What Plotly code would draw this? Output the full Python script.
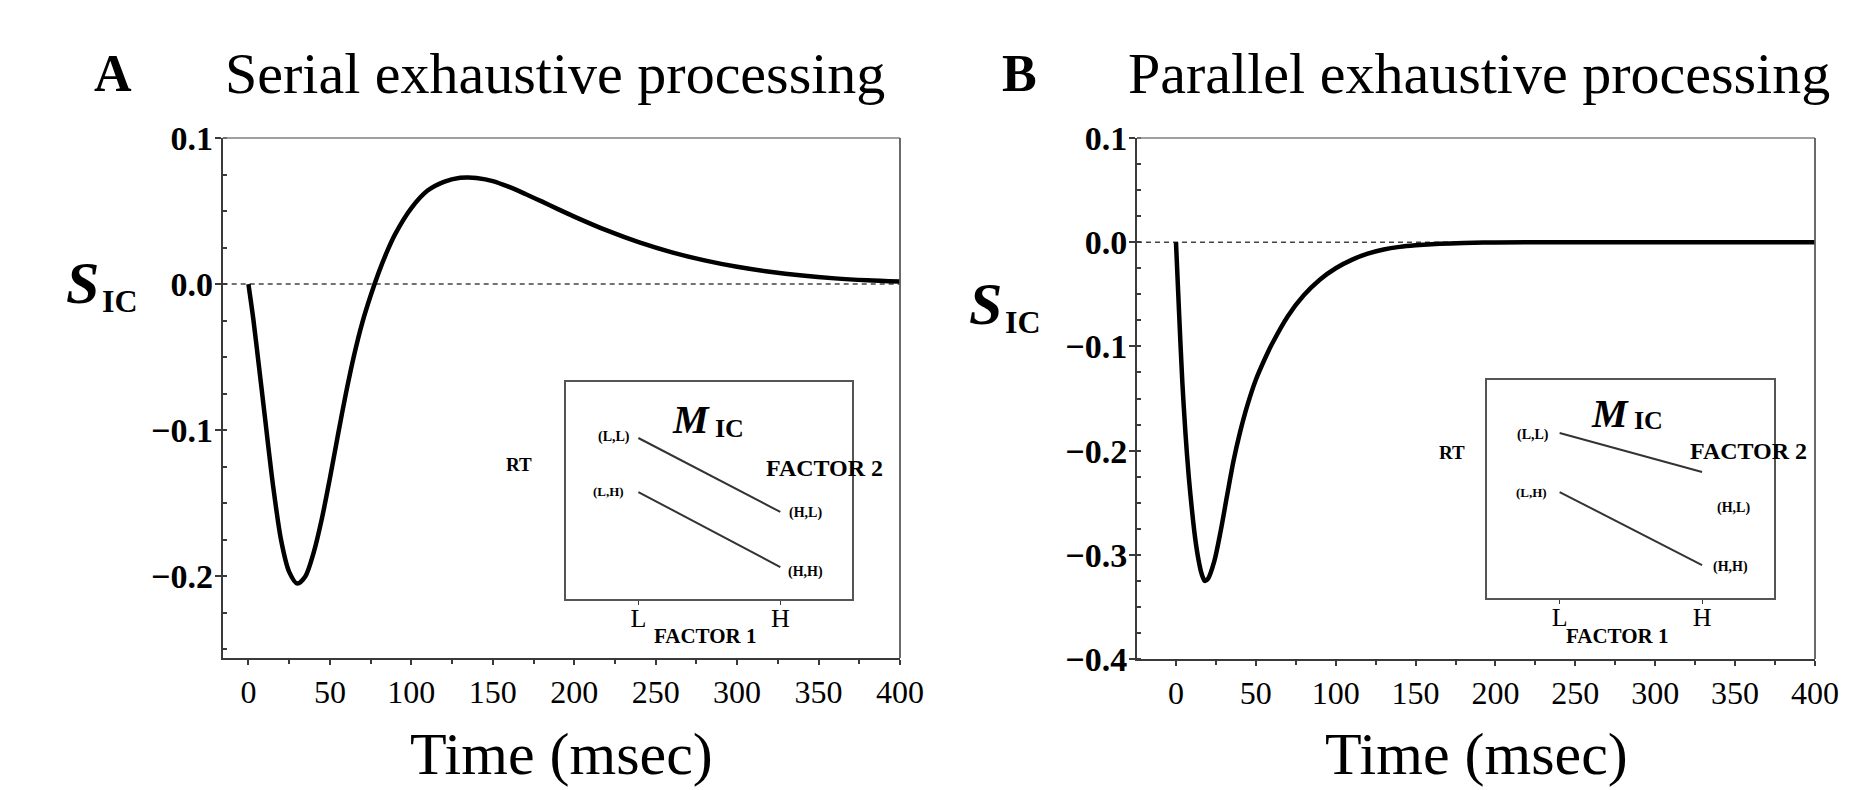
import plotly.graph_objects as go

# ---------------- data ----------------
serial_t = [0, 3, 6, 10, 15, 20, 25, 30, 35, 40, 45, 50, 55, 60, 65, 70, 75, 80, 85, 90,
            100, 110, 120, 130, 135, 140, 150, 160, 170, 180, 190, 200, 220, 240, 260,
            280, 300, 320, 340, 360, 380, 400]
serial_s = [0.0, -0.024, -0.052, -0.090, -0.137, -0.175, -0.197, -0.205, -0.200, -0.184,
            -0.161, -0.133, -0.103, -0.074, -0.048, -0.026, -0.008, 0.008, 0.022, 0.034,
            0.052, 0.064, 0.070, 0.0728, 0.073, 0.0726, 0.0705, 0.0665, 0.0617, 0.0566, 0.0513,
            0.0462, 0.0367, 0.0285, 0.0217, 0.0162, 0.0118, 0.0084, 0.0058, 0.0039, 0.0026, 0.0017]

parallel_t = [0, 2, 4, 6, 8, 10, 12, 14, 16, 18, 20, 24, 28, 32, 36, 40, 45, 50, 55, 60,
              70, 80, 90, 100, 110, 120, 130, 140, 150, 165, 180, 200, 250, 300, 350, 400]
parallel_s = [0.0, -0.07, -0.135, -0.185, -0.225, -0.257, -0.284, -0.304, -0.318, -0.325,
              -0.323, -0.306, -0.277, -0.243, -0.210, -0.183, -0.155, -0.132, -0.114, -0.098,
              -0.071, -0.051, -0.036, -0.025, -0.017, -0.011, -0.007, -0.0045, -0.003,
              -0.0015, -0.0007, -0.0002, 0.0, 0.0, 0.0, 0.0]

# inset interaction plots (mean RT, arbitrary units); factor 1 levels on x
factor1_levels = [0, 1]
factor1_labels = ["L", "H"]
serial_rt_f2_low = [0.742, 0.401]    # (L,L) -> (H,L)
serial_rt_f2_high = [0.493, 0.147]   # (L,H) -> (H,H)
parallel_rt_f2_low = [0.757, 0.578]
parallel_rt_f2_high = [0.486, 0.151]

time_ticks = [0, 50, 100, 150, 200, 250, 300, 350, 400]

# ---------------- layout helpers ----------------
W, H = 1851, 790
def fx(px):
    return px / W
def fy(py):
    return 1 - py / H

FONT = "Liberation Serif"
AXC = "#3a3a3a"

fig = go.Figure()

# main curves
fig.add_trace(go.Scatter(x=serial_t, y=serial_s, mode="lines", line=dict(color="black", width=4.5, shape="spline", smoothing=0.8),
                         xaxis="x", yaxis="y", showlegend=False, hoverinfo="skip"))
fig.add_trace(go.Scatter(x=parallel_t, y=parallel_s, mode="lines", line=dict(color="black", width=4.5, shape="spline", smoothing=0.8),
                         xaxis="x2", yaxis="y2", showlegend=False, hoverinfo="skip"))

# inset lines
for xa, ya, lo, hi in [("x3", "y3", serial_rt_f2_low, serial_rt_f2_high),
                       ("x4", "y4", parallel_rt_f2_low, parallel_rt_f2_high)]:
    fig.add_trace(go.Scatter(x=factor1_levels, y=lo, mode="lines", line=dict(color="#333", width=2),
                             xaxis=xa, yaxis=ya, showlegend=False, hoverinfo="skip"))
    fig.add_trace(go.Scatter(x=factor1_levels, y=hi, mode="lines", line=dict(color="#333", width=2),
                             xaxis=xa, yaxis=ya, showlegend=False, hoverinfo="skip"))

def main_xaxis(dom, rng):
    return dict(domain=dom, range=rng, tickvals=time_ticks, ticks="outside", ticklen=5, tickwidth=1.5,
                tickcolor=AXC, showline=True, linecolor=AXC, linewidth=2, mirror=False, automargin=False,
                showgrid=False, zeroline=False, tickfont=dict(family=FONT, size=32, color="black"),
                minor=dict(dtick=25, ticks="outside", ticklen=4, tickcolor=AXC))

def main_yaxis(dom, rng, vals):
    return dict(domain=dom, range=rng, tickvals=vals, tickformat=".1f", ticks="outside", ticklen=6, tickwidth=1.5,
                tickcolor=AXC, showline=True, linecolor=AXC, linewidth=2, mirror=False, automargin=False,
                ticklabelstandoff=-5,
                showgrid=False, zeroline=False,
                tickfont=dict(family=FONT, size=34, color="black", weight="bold"),
                minor=dict(dtick=0.025, ticks="inside", ticklen=4, tickcolor=AXC))

def inset_xaxis(dom, anchor):
    return dict(domain=dom, range=[-0.51, 1.505], tickvals=factor1_levels, ticktext=factor1_labels, anchor=anchor,
                ticks="outside", ticklen=4, tickcolor=AXC, showline=True, linecolor="#555", linewidth=1.5, mirror=True,
                ticklabelstandoff=-9,
                automargin=False, showgrid=False, zeroline=False, tickfont=dict(family=FONT, size=26, color="black"))

def inset_yaxis(dom, anchor):
    return dict(domain=dom, range=[0, 1], anchor=anchor, showticklabels=False, ticks="", showline=True,
                automargin=False, linecolor="#555", linewidth=1.5, mirror=True, showgrid=False, zeroline=False)

fig.update_layout(
    template="none",
    width=W, height=H, margin=dict(l=0, r=0, t=0, b=0, pad=0, autoexpand=False),
    paper_bgcolor="white", plot_bgcolor="rgba(0,0,0,0)", showlegend=False,
    xaxis=main_xaxis([fx(222.7), fx(900)], [-15.8, 400]) | dict(anchor="y"),
    yaxis=main_yaxis([fy(658), fy(138)], [-0.256, 0.1], [0.1, 0.0, -0.1, -0.2]) | dict(anchor="x"),
    xaxis2=main_xaxis([fx(1137), fx(1815)], [-24.4, 400]) | dict(anchor="y2"),
    yaxis2=main_yaxis([fy(659), fy(138)], [-0.4, 0.1], [0.1, 0.0, -0.1, -0.2, -0.3, -0.4]) | dict(anchor="x2"),
    xaxis3=inset_xaxis([fx(566), fx(852)], "y3"),
    yaxis3=inset_yaxis([fy(599), fy(382)], "x3"),
    xaxis4=inset_xaxis([fx(1487), fx(1774)], "y4"),
    yaxis4=inset_yaxis([fy(598), fy(380)], "x4"),
)

# top / right frame (lighter than the main axes, as in the scan) and dashed zero lines
for xr, yr in [("x domain", "y domain"), ("x2 domain", "y2 domain")]:
    fig.add_shape(type="line", xref=xr, yref=yr, x0=0, x1=1, y0=1, y1=1,
                  line=dict(color="#808080", width=1.6))
    fig.add_shape(type="line", xref=xr, yref=yr, x0=1, x1=1, y0=0, y1=1,
                  line=dict(color="#5a5a5a", width=1.8))
for xr, yr in [("x domain", "y"), ("x2 domain", "y2")]:
    fig.add_shape(type="line", xref=xr, yref=yr, x0=0, x1=1, y0=0, y1=0,
                  line=dict(color="#444", width=1.5, dash="5px,4px"), layer="below")

ann = []
def text(x, y, s, size, bold=False, italic=False, xanchor="center", yanchor="middle", color="black"):
    if bold:
        s = "<b>" + s + "</b>"
    if italic:
        s = "<i>" + s + "</i>"
    ann.append(dict(x=fx(x), y=fy(y), xref="paper", yref="paper", text=s, showarrow=False,
                    font=dict(family=FONT, size=size, color=color), xanchor=xanchor, yanchor=yanchor))

# panel titles
text(92, 73, "A", 52, bold=True, xanchor="left")
text(223, 73, "Serial exhaustive processing", 58, xanchor="left")
text(1000, 73, "B", 52, bold=True, xanchor="left")
text(1126, 73, "Parallel exhaustive processing", 58, xanchor="left")

# x-axis titles
text(561, 754, "Time (msec)", 60)
text(1476, 754, "Time (msec)", 60)

# y-axis titles S_IC
text(101, 283, "S", 60, bold=True, italic=True, xanchor="right")
text(100, 301, "IC", 32, bold=True, xanchor="left")
text(1004, 304, "S", 60, bold=True, italic=True, xanchor="right")
text(1003, 322, "IC", 32, bold=True, xanchor="left")

# inset A labels
text(712, 420, "M", 40, bold=True, italic=True, xanchor="right")
text(713, 428, "IC", 26, bold=True, xanchor="left")
text(519, 464, "RT", 19, bold=True)
text(824, 468, "FACTOR 2", 24, bold=True)
text(705, 636, "FACTOR 1", 21, bold=True)
text(614, 437, "(L,L)", 14, bold=True)
text(608, 491, "(L,H)", 13, bold=True)
text(805, 513, "(H,L)", 14, bold=True)
text(805, 572, "(H,H)", 14, bold=True)

# inset B labels
text(1631, 413, "M", 40, bold=True, italic=True, xanchor="right")
text(1632, 421, "IC", 26, bold=True, xanchor="left")
text(1452, 452, "RT", 19, bold=True)
text(1748, 451, "FACTOR 2", 24, bold=True)
text(1617, 636, "FACTOR 1", 21, bold=True)
text(1533, 435, "(L,L)", 14, bold=True)
text(1531, 492, "(L,H)", 13, bold=True)
text(1733, 508, "(H,L)", 14, bold=True)
text(1730, 567, "(H,H)", 14, bold=True)

fig.update_layout(annotations=ann)
fig.write_html("out.html", config={"displayModeBar": False},
               post_script="document.body.style.margin='0';document.body.style.padding='0';document.body.style.overflow='hidden';")
